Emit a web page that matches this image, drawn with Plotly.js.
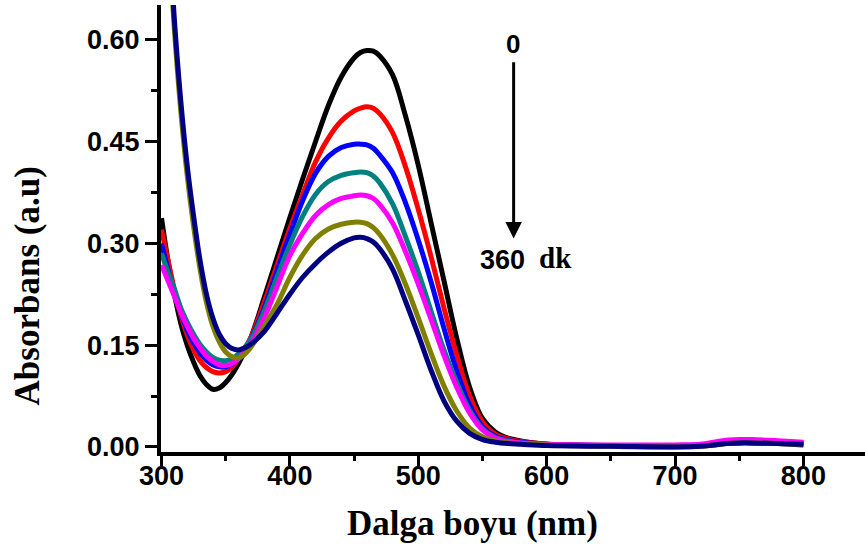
<!DOCTYPE html>
<html><head><meta charset="utf-8">
<script src="https://cdn.plot.ly/plotly-3.0.1.min.js"></script>
<style>html,body{margin:0;padding:0;background:#fff}#chart{width:865px;height:553px}</style>
</head><body><div id="chart"></div>
<script>
// Wavelength grid (nm)
const wavelength = [300,305,310,315,320,325,330,335,340,345,350,355,360,365,370,380,390,400,410,420,430,440,450,455,460,465,470,480,490,500,510,520,530,540,550,560,570,580,600,650,700,720,730,740,750,760,780,800];

// Absorbance series
const absBlack = [.337,.275,.225,.182,.150,.125,.105,.092,.085,.087,.095,.107,.123,.142,.163,.220,.279,.338,.395,.450,.503,.545,.573,.581,.584,.583,.576,.548,.488,.415,.330,.245,.160,.088,.042,.022,.013,.009,.004,.002,.001,.002,.003,.005,.006,.006,.005,.003];
const absRed = [.320,.275,.232,.195,.165,.143,.127,.117,.111,.109,.111,.118,.130,.145,.163,.213,.268,.322,.372,.420,.455,.480,.495,.499,.501,.499,.491,.463,.413,.350,.280,.205,.135,.075,.037,.019,.012,.008,.004,.002,.001,.002,.004,.007,.008,.008,.007,.005];
const absBlue = [.300,.262,.230,.198,.172,.153,.139,.128,.121,.118,.118,.122,.130,.143,.160,.205,.260,.313,.363,.403,.428,.441,.446,.446,.445,.440,.430,.404,.360,.305,.243,.175,.112,.062,.030,.016,.010,.007,.004,.002,.002,.003,.005,.008,.009,.009,.008,.006];
const absTeal = [.285,.258,.233,.205,.184,.166,.151,.140,.132,.128,.127,.130,.137,.147,.160,.200,.250,.298,.340,.372,.391,.400,.404,.405,.404,.399,.389,.358,.310,.258,.200,.143,.095,.054,.027,.014,.009,.006,.004,.002,.002,.003,.005,.008,.009,.009,.008,.006];
const absMagenta = [.268,.245,.222,.198,.178,.160,.146,.134,.126,.121,.120,.123,.130,.141,.153,.190,.236,.282,.315,.341,.357,.366,.370,.371,.370,.366,.357,.330,.288,.240,.188,.135,.088,.050,.025,.013,.008,.006,.004,.003,.003,.004,.007,.010,.011,.011,.009,.007];
const absOlive = [.930,.765,.615,.495,.400,.325,.262,.213,.178,.155,.140,.133,.131,.137,.148,.178,.210,.250,.283,.307,.321,.328,.331,.331,.329,.323,.313,.283,.240,.190,.138,.090,.053,.028,.015,.009,.006,.005,.003,.001,.000,.001,.003,.005,.006,.006,.005,.004];
const absNavy = [.950,.780,.630,.510,.415,.340,.275,.225,.190,.166,.152,.145,.143,.146,.152,.170,.197,.225,.250,.270,.287,.300,.308,.309,.307,.302,.292,.262,.215,.165,.113,.068,.038,.020,.011,.007,.005,.004,.002,.001,.000,.001,.003,.005,.006,.006,.005,.004];

const seriesNames = ['0 dk','Eğri 2','Eğri 3','Eğri 4','Eğri 5','Eğri 6','360 dk'];
const seriesColors = ['#000000','#ff0000','#0000ff','#008080','#ff00ff','#808000','#000080'];
const seriesValues = [absBlack, absRed, absBlue, absTeal, absMagenta, absOlive, absNavy];

const xTickVals = [300,400,500,600,700,800];
const xTickText = ['300','400','500','600','700','800'];
const xMinorVals = [350,450,550,650,750,850];
const yTickVals = [0,0.15,0.30,0.45,0.60];
const yTickText = ['0.00','0.15','0.30','0.45','0.60'];
const yMinorVals = [0.075,0.225,0.375,0.525];

const traces = seriesValues.map((vals, i) => ({
  x: wavelength, y: vals, type: 'scatter', mode: 'lines', name: seriesNames[i],
  line: {color: seriesColors[i], width: 5, shape: 'spline', smoothing: 1},
  showlegend: false, hoverinfo: 'x+y'
}));

const tickFont = {family: 'Liberation Sans, Arial, sans-serif', size: 27, weight: 'bold', color: '#000'};
const serifBold = {family: 'Liberation Serif, Times New Roman, serif', size: 35, weight: 'bold', color: '#000'};

const layout = {
  width: 865, height: 553,
  margin: {l: 161, r: 0, t: 5, b: 101},
  paper_bgcolor: '#fff', plot_bgcolor: '#fff',
  showlegend: false,
  xaxis: {
    range: [299.6, 848], tickvals: xTickVals, ticktext: xTickText,
    ticks: 'outside', ticklen: 10, tickwidth: 3, tickcolor: '#000',
    minor: {tickvals: xMinorVals, ticks: 'outside', ticklen: 5, tickwidth: 3, tickcolor: '#000'},
    showline: true, linewidth: 4, linecolor: '#000', mirror: false,
    showgrid: false, zeroline: false, tickfont: tickFont, ticklabelstandoff: -13
  },
  yaxis: {
    range: [-0.0074, 0.651], tickvals: yTickVals, ticktext: yTickText,
    ticks: 'outside', ticklen: 12, tickwidth: 3, tickcolor: '#000',
    minor: {tickvals: yMinorVals, ticks: 'outside', ticklen: 6, tickwidth: 3, tickcolor: '#000'},
    showline: true, linewidth: 4, linecolor: '#000',
    showgrid: false, zeroline: false, tickfont: tickFont
  },
  annotations: [
    {xref: 'paper', yref: 'paper', x: 0.4418, y: -0.161, xanchor: 'center', yanchor: 'middle',
     text: 'Dalga boyu (nm)', showarrow: false, font: serifBold},
    {xref: 'paper', yref: 'paper', x: -0.19, y: 0.371, xanchor: 'center', yanchor: 'middle',
     text: 'Absorbans (a.u)', textangle: -90, showarrow: false, font: serifBold},
    {xref: 'x', yref: 'y', x: 573.5, y: 0.594, text: '0', showarrow: false,
     xanchor: 'center', yanchor: 'middle',
     font: {family: 'Liberation Sans, Arial, sans-serif', size: 26, weight: 'bold', color: '#000'}},
    {xref: 'x', yref: 'y', x: 574.3, y: 0.307, axref: 'x', ayref: 'y', ax: 574.3, ay: 0.569,
     text: '', showarrow: true, arrowhead: 2, arrowsize: 1.1, arrowwidth: 3, arrowcolor: '#000'},
    {xref: 'x', yref: 'y', x: 565.5, y: 0.275, text: '360', showarrow: false,
     xanchor: 'center', yanchor: 'middle',
     font: {family: 'Liberation Sans, Arial, sans-serif', size: 27, weight: 'bold', color: '#000'}},
    {xref: 'x', yref: 'y', x: 607, y: 0.278, text: 'dk', showarrow: false,
     xanchor: 'center', yanchor: 'middle',
     font: {family: 'Liberation Serif, Times New Roman, serif', size: 29, weight: 'bold', color: '#000'}}
  ]
};

Plotly.newPlot('chart', traces, layout, {displayModeBar: false, staticPlot: true});
</script>
</body></html>
